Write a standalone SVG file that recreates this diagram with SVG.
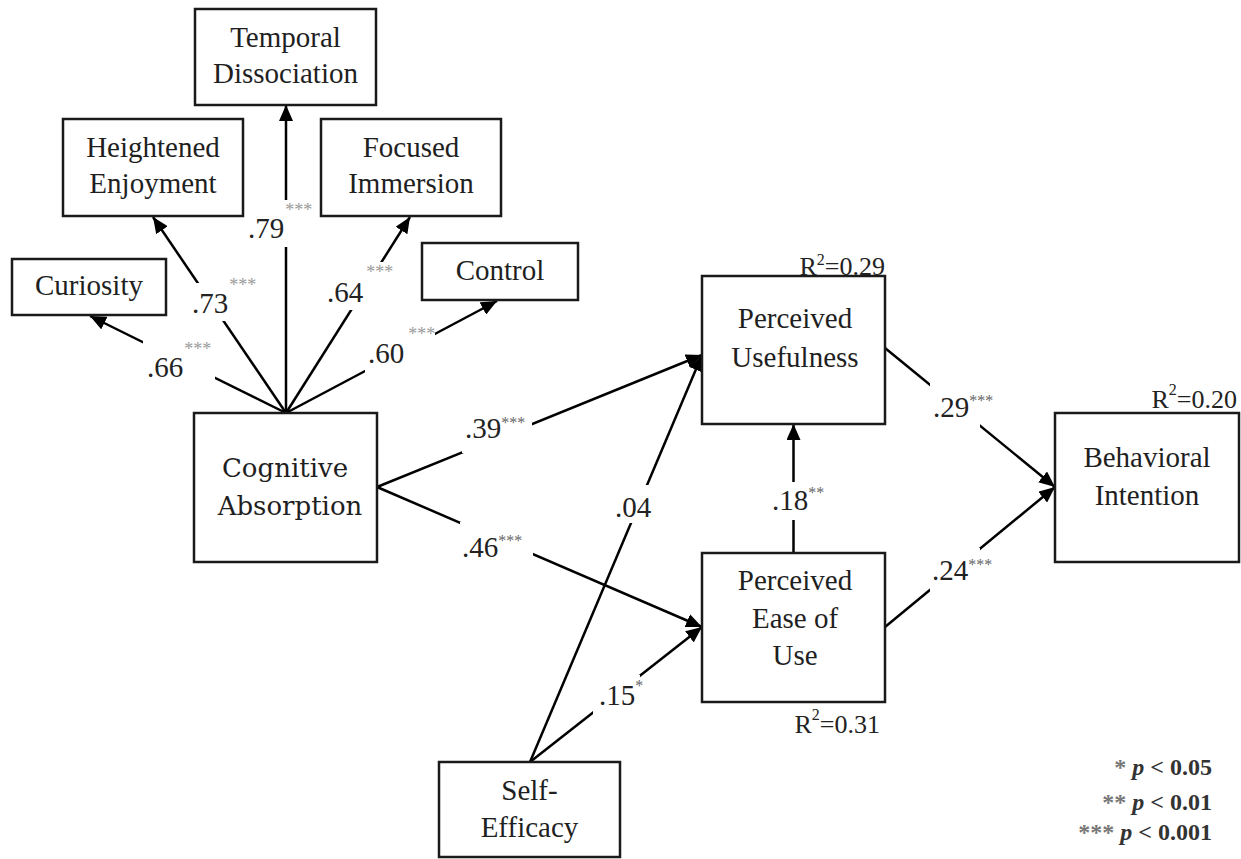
<svg xmlns="http://www.w3.org/2000/svg" width="1241" height="859" viewBox="0 0 1241 859">
<style>
.box{fill:#fff;stroke:#1a1a1a;stroke-width:2.5}
.nt{font-family:"Liberation Serif","Times New Roman",serif;font-size:29px;fill:#1f1f1f;text-anchor:middle}
.nc{font-family:"DejaVu Serif",serif;font-size:26px;fill:#1f1f1f;text-anchor:middle}
.ln{stroke:#000;stroke-width:2.5;fill:none}
.lb{font-family:"Liberation Serif","Times New Roman",serif;font-size:29px;fill:#222}
.so{font-size:18px;fill:#9a9a9a}
.si{font-size:16px;fill:#666}
.gap{fill:#fff}
.r2{font-family:"Liberation Serif","Times New Roman",serif;font-size:26px;fill:#222;text-anchor:end}
.lg{font-family:"Liberation Serif","Times New Roman",serif;font-size:24px;font-weight:bold;fill:#333;text-anchor:end}
</style>
<defs>
<marker id="ah" markerUnits="userSpaceOnUse" markerWidth="17" markerHeight="14" refX="16" refY="7" orient="auto">
<path d="M0,0 L16,7 L0,14 z" fill="#000"/>
</marker>
</defs>
<rect width="1241" height="859" fill="#fff"/>
<g id="connectors">
<line class="ln" x1="286" y1="413" x2="90" y2="316" marker-end="url(#ah)"/>
<line class="ln" x1="286" y1="413" x2="153" y2="217" marker-end="url(#ah)"/>
<line class="ln" x1="286" y1="413" x2="286" y2="105" marker-end="url(#ah)"/>
<line class="ln" x1="286" y1="413" x2="410" y2="217" marker-end="url(#ah)"/>
<line class="ln" x1="286" y1="413" x2="497" y2="301" marker-end="url(#ah)"/>
<line class="ln" x1="377" y1="487" x2="702" y2="355" marker-end="url(#ah)"/>
<line class="ln" x1="377" y1="487" x2="702" y2="627" marker-end="url(#ah)"/>
<line class="ln" x1="530" y1="762" x2="702" y2="355" marker-end="url(#ah)"/>
<line class="ln" x1="530" y1="762" x2="702" y2="627" marker-end="url(#ah)"/>
<line class="ln" x1="793.5" y1="553" x2="793.5" y2="424" marker-end="url(#ah)"/>
<line class="ln" x1="885" y1="348" x2="1055" y2="487" marker-end="url(#ah)"/>
<line class="ln" x1="885" y1="627" x2="1055" y2="487" marker-end="url(#ah)"/>
</g>
<g id="edge-labels">
<rect class="gap" x="143" y="335" width="72" height="47"/>
<text class="lb" x="147" y="377">.66<tspan class="so" dx="1" dy="-22">***</tspan></text>
<rect class="gap" x="190" y="283" width="66" height="38"/>
<text class="lb" x="192" y="313">.73<tspan class="so" dx="1" dy="-22">***</tspan></text>
<rect class="gap" x="246" y="200" width="72" height="47"/>
<text class="lb" x="248" y="238">.79<tspan class="so" dx="1" dy="-22">***</tspan></text>
<rect class="gap" x="325" y="262" width="72" height="48"/>
<text class="lb" x="327" y="302">.64<tspan class="so" dx="3" dy="-24">***</tspan></text>
<rect class="gap" x="365" y="333" width="70" height="40"/>
<text class="lb" x="368" y="363">.60<tspan class="so" dx="4" dy="-23">***</tspan></text>
<rect class="gap" x="462" y="413" width="70" height="40"/>
<text class="lb" x="465" y="438">.39<tspan class="si" dy="-10">***</tspan></text>
<rect class="gap" x="460" y="522" width="73" height="40"/>
<text class="lb" x="462" y="557">.46<tspan class="si" dy="-11">***</tspan></text>
<rect class="gap" x="612" y="485" width="42" height="38"/>
<text class="lb" x="615" y="517">.04</text>
<rect class="gap" x="593" y="675" width="47" height="40"/>
<text class="lb" x="599" y="705">.15<tspan class="si" dy="-14">*</tspan></text>
<rect class="gap" x="770" y="482" width="57" height="38"/>
<text class="lb" x="772" y="510">.18<tspan class="si" dy="-12">**</tspan></text>
<rect class="gap" x="930" y="382" width="50" height="46"/>
<text class="lb" x="933" y="417">.29<tspan class="si" dy="-11">***</tspan></text>
<rect class="gap" x="930" y="548" width="50" height="44"/>
<text class="lb" x="932" y="580">.24<tspan class="si" dy="-10">***</tspan></text>
</g>
<g id="temporal-dissociation">
<rect class="box" x="195" y="9" width="181" height="96"/>
<text class="nt" x="285.5" y="47">Temporal</text>
<text class="nt" x="285.5" y="83">Dissociation</text>
</g>
<g id="heightened-enjoyment">
<rect class="box" x="63" y="119" width="180" height="97"/>
<text class="nt" x="153" y="157">Heightened</text>
<text class="nt" x="153" y="193">Enjoyment</text>
</g>
<g id="focused-immersion">
<rect class="box" x="321" y="119" width="180" height="97"/>
<text class="nt" x="411" y="157">Focused</text>
<text class="nt" x="411" y="193">Immersion</text>
</g>
<g id="curiosity">
<rect class="box" x="12" y="259" width="154" height="56"/>
<text class="nt" x="89" y="295">Curiosity</text>
</g>
<g id="control">
<rect class="box" x="422" y="243" width="156" height="57"/>
<text class="nt" x="500" y="280">Control</text>
</g>
<g id="cognitive-absorption">
<rect class="box" x="194" y="413" width="183" height="149"/>
<text class="nc" x="285" y="477">Cognitive</text>
<text class="nc" x="290" y="515">Absorption</text>
</g>
<g id="perceived-usefulness">
<rect class="box" x="702" y="276" width="183" height="148"/>
<text class="nt" x="795" y="328">Perceived</text>
<text class="nt" x="795" y="367">Usefulness</text>
<text class="r2" x="885" y="275">R<tspan font-size="16" dy="-10">2</tspan><tspan dy="10">=0.29</tspan></text>
</g>
<g id="perceived-ease-of-use">
<rect class="box" x="702" y="553" width="183" height="149"/>
<text class="nt" x="795" y="590">Perceived</text>
<text class="nt" x="795" y="628">Ease of</text>
<text class="nt" x="795" y="665">Use</text>
<text class="r2" x="880" y="733">R<tspan font-size="16" dy="-13">2</tspan><tspan dy="13">=0.31</tspan></text>
</g>
<g id="behavioral-intention">
<rect class="box" x="1055" y="413" width="184" height="149"/>
<text class="nt" x="1147" y="467">Behavioral</text>
<text class="nt" x="1147" y="505">Intention</text>
<text class="r2" x="1237" y="408">R<tspan font-size="16" dy="-13">2</tspan><tspan dy="13">=0.20</tspan></text>
</g>
<g id="self-efficacy">
<rect class="box" x="439" y="762" width="181" height="95"/>
<text class="nt" x="529.5" y="800">Self-</text>
<text class="nt" x="529.5" y="837">Efficacy</text>
</g>
<g id="legend">
<text class="lg" x="1212" y="775"><tspan fill="#777">*</tspan> <tspan font-style="italic">p</tspan> &lt; 0.05</text>
<text class="lg" x="1212" y="810"><tspan fill="#777">**</tspan> <tspan font-style="italic">p</tspan> &lt; 0.01</text>
<text class="lg" x="1212" y="840"><tspan fill="#777">***</tspan> <tspan font-style="italic">p</tspan> &lt; 0.001</text>
</g>
</svg>
